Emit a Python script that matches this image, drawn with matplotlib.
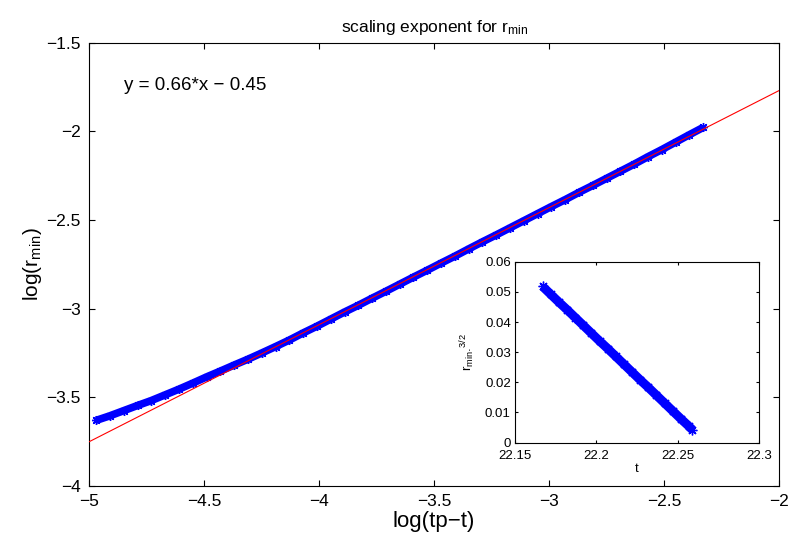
import matplotlib
matplotlib.use("Agg")
import matplotlib.pyplot as plt
import numpy as np

plt.rcParams['font.family'] = ['Liberation Sans', 'DejaVu Sans']
plt.rcParams['mathtext.fontset'] = 'custom'
plt.rcParams['mathtext.rm'] = 'Liberation Sans'
plt.rcParams['mathtext.it'] = 'Liberation Sans:italic'

# log(tp - t) versus log(r_min)
log_dt = [-4.97, -4.91, -4.85, -4.79, -4.73, -4.67, -4.61, -4.55, -4.49, -4.43,
          -4.37, -4.31, -4.25, -4.19, -4.13, -4.07, -4.01, -3.95, -3.89, -3.83,
          -3.77, -3.71, -3.65, -3.59, -3.53, -3.47, -3.41, -3.35, -3.29, -3.23,
          -3.17, -3.11, -3.05, -2.99, -2.93, -2.87, -2.81, -2.75, -2.69, -2.63,
          -2.57, -2.51, -2.45, -2.39, -2.33]
log_rmin = [-3.630, -3.604, -3.575, -3.546, -3.518, -3.486, -3.454, -3.420, -3.385, -3.352,
            -3.318, -3.285, -3.250, -3.214, -3.177, -3.137, -3.099, -3.059, -3.019, -2.981,
            -2.941, -2.902, -2.862, -2.822, -2.783, -2.743, -2.704, -2.663, -2.623, -2.584,
            -2.544, -2.504, -2.464, -2.424, -2.385, -2.344, -2.305, -2.265, -2.225, -2.185,
            -2.143, -2.103, -2.061, -2.019, -1.978]

# linear fit
fit_slope = 0.66
fit_intercept = -0.45
fit_x = [-5.0, -2.0]

# inset: t versus r_min^(3/2)
t_vals = [22.167, 22.172, 22.177, 22.182, 22.187, 22.192, 22.197, 22.202, 22.207, 22.212,
          22.217, 22.222, 22.227, 22.232, 22.237, 22.242, 22.247, 22.252, 22.257, 22.259]
rmin_32 = [0.0518, 0.0492, 0.0466, 0.0441, 0.0415, 0.0389, 0.0363, 0.0337, 0.0312, 0.0286,
           0.0260, 0.0234, 0.0208, 0.0183, 0.0157, 0.0131, 0.0105, 0.0079, 0.0054, 0.0043]

main_xticks = [-5, -4.5, -4, -3.5, -3, -2.5, -2]
main_yticks = [-4, -3.5, -3, -2.5, -2, -1.5]
inset_xticks = [22.15, 22.2, 22.25, 22.3]
inset_yticks = [0, 0.01, 0.02, 0.03, 0.04, 0.05, 0.06]

asterisk = (8, 2, 0)

fig = plt.figure(figsize=(7.91, 5.41), dpi=100)
ax = fig.add_axes([0.1129, 0.1017, 0.872, 0.8194])

ax.plot(log_dt, log_rmin, color='#0000ff', lw=5.5, marker=asterisk, ms=6.5,
        mec='#0000ff', mew=1.0, solid_capstyle='butt', zorder=2)
fx = np.array(fit_x)
ax.plot(fx, fit_slope * fx + fit_intercept, color='#ff0000', lw=0.8, zorder=3)

ax.set_xlim(-5, -2)
ax.set_ylim(-4, -1.5)
ax.set_xticks(main_xticks)
ax.set_yticks(main_yticks)
ax.set_xticklabels([f"{v:g}".replace('-', '\u2212') for v in main_xticks])
ax.set_yticklabels([f"{v:g}".replace('-', '\u2212') for v in main_yticks])
ax.tick_params(direction='in', top=True, right=True, length=4.3, width=0.8,
               labelsize=12.5, pad=6)
for s in ax.spines.values():
    s.set_linewidth(0.8)

sign = '\u2212' if fit_intercept < 0 else '+'
ax.text(-4.85, -1.742, f"y = {fit_slope:.2f}*x {sign} {abs(fit_intercept):.2f}",
        fontsize=13.5, va='center', ha='left')

ax.set_xlabel('log(tp\u2212t)', fontsize=16, labelpad=1.5)
ax.set_ylabel(r'log(r$_\mathregular{min}$)', fontsize=15, labelpad=2)
ax.set_title(r'scaling exponent for r$_\mathregular{min}$', fontsize=12.5, pad=8)

# inset
ins = fig.add_axes([0.651, 0.1818, 0.3085, 0.3344])
ins.plot(t_vals, rmin_32, color='#0000ff', lw=6.5, marker=asterisk, ms=7,
         mec='#0000ff', mew=1.0, solid_capstyle='butt')
ins.set_xlim(22.15, 22.3)
ins.set_ylim(0, 0.06)
ins.set_xticks(inset_xticks)
ins.set_yticks(inset_yticks)
ins.set_xticklabels([f"{v:g}" for v in inset_xticks])
ins.set_yticklabels([f"{v:g}" for v in inset_yticks])
ins.tick_params(direction='in', top=True, right=True, length=2.5, width=0.8,
                labelsize=9.5)
ins.tick_params(axis='x', pad=5)
ins.tick_params(axis='y', pad=3)
for s in ins.spines.values():
    s.set_linewidth(0.8)
ins.set_xlabel('t', fontsize=9.5, labelpad=1)
ins.set_ylabel(r'r$_\mathregular{min}$.$^\mathregular{3/2}$', fontsize=9.5, labelpad=6)

fig.savefig('out.png', dpi=100)
